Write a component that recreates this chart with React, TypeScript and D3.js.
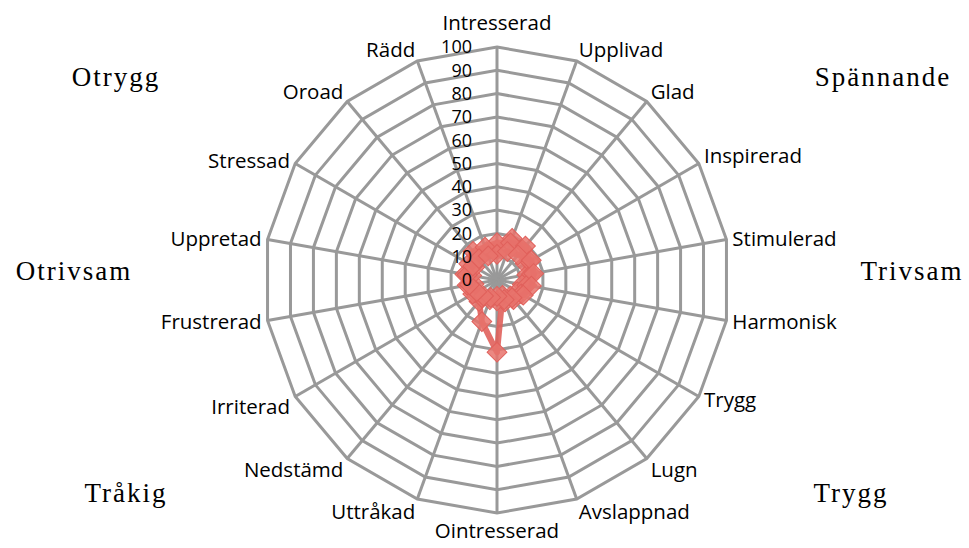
import React, { useEffect, useRef } from 'react';
import * as d3 from 'd3';

const categories = [
  'Intresserad', 'Upplivad', 'Glad', 'Inspirerad', 'Stimulerad', 'Harmonisk',
  'Trygg', 'Lugn', 'Avslappnad', 'Ointresserad', 'Uttråkad', 'Nedstämd',
  'Irriterad', 'Frustrerad', 'Uppretad', 'Stressad', 'Oroad', 'Rädd',
];

const seriesA = [13, 19, 17, 14, 13, 11, 10, 9, 7, 31, 19, 12, 11, 10, 11, 11, 13, 13];
const seriesB = [16, 17, 19, 16, 15, 13, 12, 11, 10, 9, 9, 10, 12, 13, 14, 14, 16, 15];
const seriesC = [11, 13, 14, 17, 16, 15, 13, 10, 9, 7, 8, 9, 10, 12, 13, 12, 12, 11];
const allSeries = [seriesA, seriesB, seriesC];

const ticks = [0, 10, 20, 30, 40, 50, 60, 70, 80, 90, 100];

const corners = [
  { text: 'Otrygg', x: 116, y: 86 },
  { text: 'Spännande', x: 883, y: 86 },
  { text: 'Otrivsam', x: 74, y: 280 },
  { text: 'Trivsam', x: 912, y: 280 },
  { text: 'Tråkig', x: 126, y: 502 },
  { text: 'Trygg', x: 851, y: 502 },
];

const App = () => {
  const svgRef = useRef<SVGSVGElement>(null);

  useEffect(() => {
    const svg = d3.select(svgRef.current);
    svg.selectAll('*').remove();

    const cx = 497;
    const cy = 280;
    const R = 233;
    const n = categories.length;
    const r = d3.scaleLinear().domain([0, 100]).range([0, R]);
    const ang = (i: number) => (i * 2 * Math.PI) / n;
    const pt = (i: number, v: number): [number, number] => [
      cx + r(v) * Math.sin(ang(i)),
      cy - r(v) * Math.cos(ang(i)),
    ];

    const g = svg.append('g');

    // rings
    ticks.slice(1).forEach(t => {
      const pts = categories.map((_, i) => pt(i, t));
      g.append('polygon')
        .attr('points', pts.map(p => p.join(',')).join(' '))
        .attr('fill', 'none')
        .attr('stroke', '#999')
        .attr('stroke-width', 3);
    });

    // spokes
    categories.forEach((_, i) => {
      const [x, y] = pt(i, 100);
      g.append('line')
        .attr('x1', cx).attr('y1', cy)
        .attr('x2', x).attr('y2', y)
        .attr('stroke', '#999')
        .attr('stroke-width', 3);
    });

    // category labels
    categories.forEach((c, i) => {
      const a = ang(i);
      const s = Math.sin(a);
      const co = Math.cos(a);
      const [x, y] = pt(i, 100);
      let anchor = 'middle';
      if (s > 0.1) anchor = 'start';
      else if (s < -0.1) anchor = 'end';
      const dx = s * 6;
      let dy = -co * 6;
      if (Math.abs(s) < 0.1) dy = co > 0 ? -17 : 25;
      g.append('text')
        .attr('x', x + dx)
        .attr('y', y + dy)
        .attr('dy', Math.abs(s) < 0.1 ? 0 : co > 0.5 ? '0.1em' : co < -0.5 ? '0.7em' : '0.35em')
        .attr('text-anchor', anchor)
        .attr('font-family', 'Open Sans, sans-serif')
        .attr('font-size', 20.5)
        .attr('fill', '#000')
        .text(c);
    });

    // series
    const line = d3.line<number>()
      .x((v, i) => pt(i, v)[0])
      .y((v, i) => pt(i, v)[1])
      .curve(d3.curveLinearClosed);

    allSeries.forEach(series => {
      g.append('path')
        .attr('d', line(series))
        .attr('fill', 'none')
        .attr('stroke', '#e0605b')
        .attr('stroke-opacity', 0.9)
        .attr('stroke-width', 6)
        .attr('stroke-linejoin', 'round');
      series.forEach((v, i) => {
        const [x, y] = pt(i, v);
        g.append('rect')
          .attr('x', x - 7).attr('y', y - 7)
          .attr('width', 14).attr('height', 14)
          .attr('transform', `rotate(45 ${x} ${y})`)
          .attr('fill', '#e8736c')
          .attr('fill-opacity', 0.85)
          .attr('stroke', '#e0605b')
          .attr('stroke-width', 1);
      });
    });

    // tick labels, drawn above the data
    ticks.forEach(t => {
      g.append('text')
        .attr('x', cx - 25)
        .attr('y', cy - r(t))
        .attr('dy', '0.35em')
        .attr('text-anchor', 'end')
        .attr('font-family', 'Open Sans, sans-serif')
        .attr('font-size', 18)
        .attr('fill', '#000')
        .text(t);
    });

    // corner labels
    corners.forEach(c => {
      svg.append('text')
        .attr('x', c.x).attr('y', c.y)
        .attr('text-anchor', 'middle')
        .attr('font-family', 'Liberation Serif, serif')
        .attr('font-size', 27)
        .attr('letter-spacing', 2)
        .attr('fill', '#000')
        .text(c.text);
    });
  }, []);

  return (
    <svg ref={svgRef} width={969} height={548} style={{ position: 'absolute', left: 0, top: 0 }} />
  );
};

export default App;
